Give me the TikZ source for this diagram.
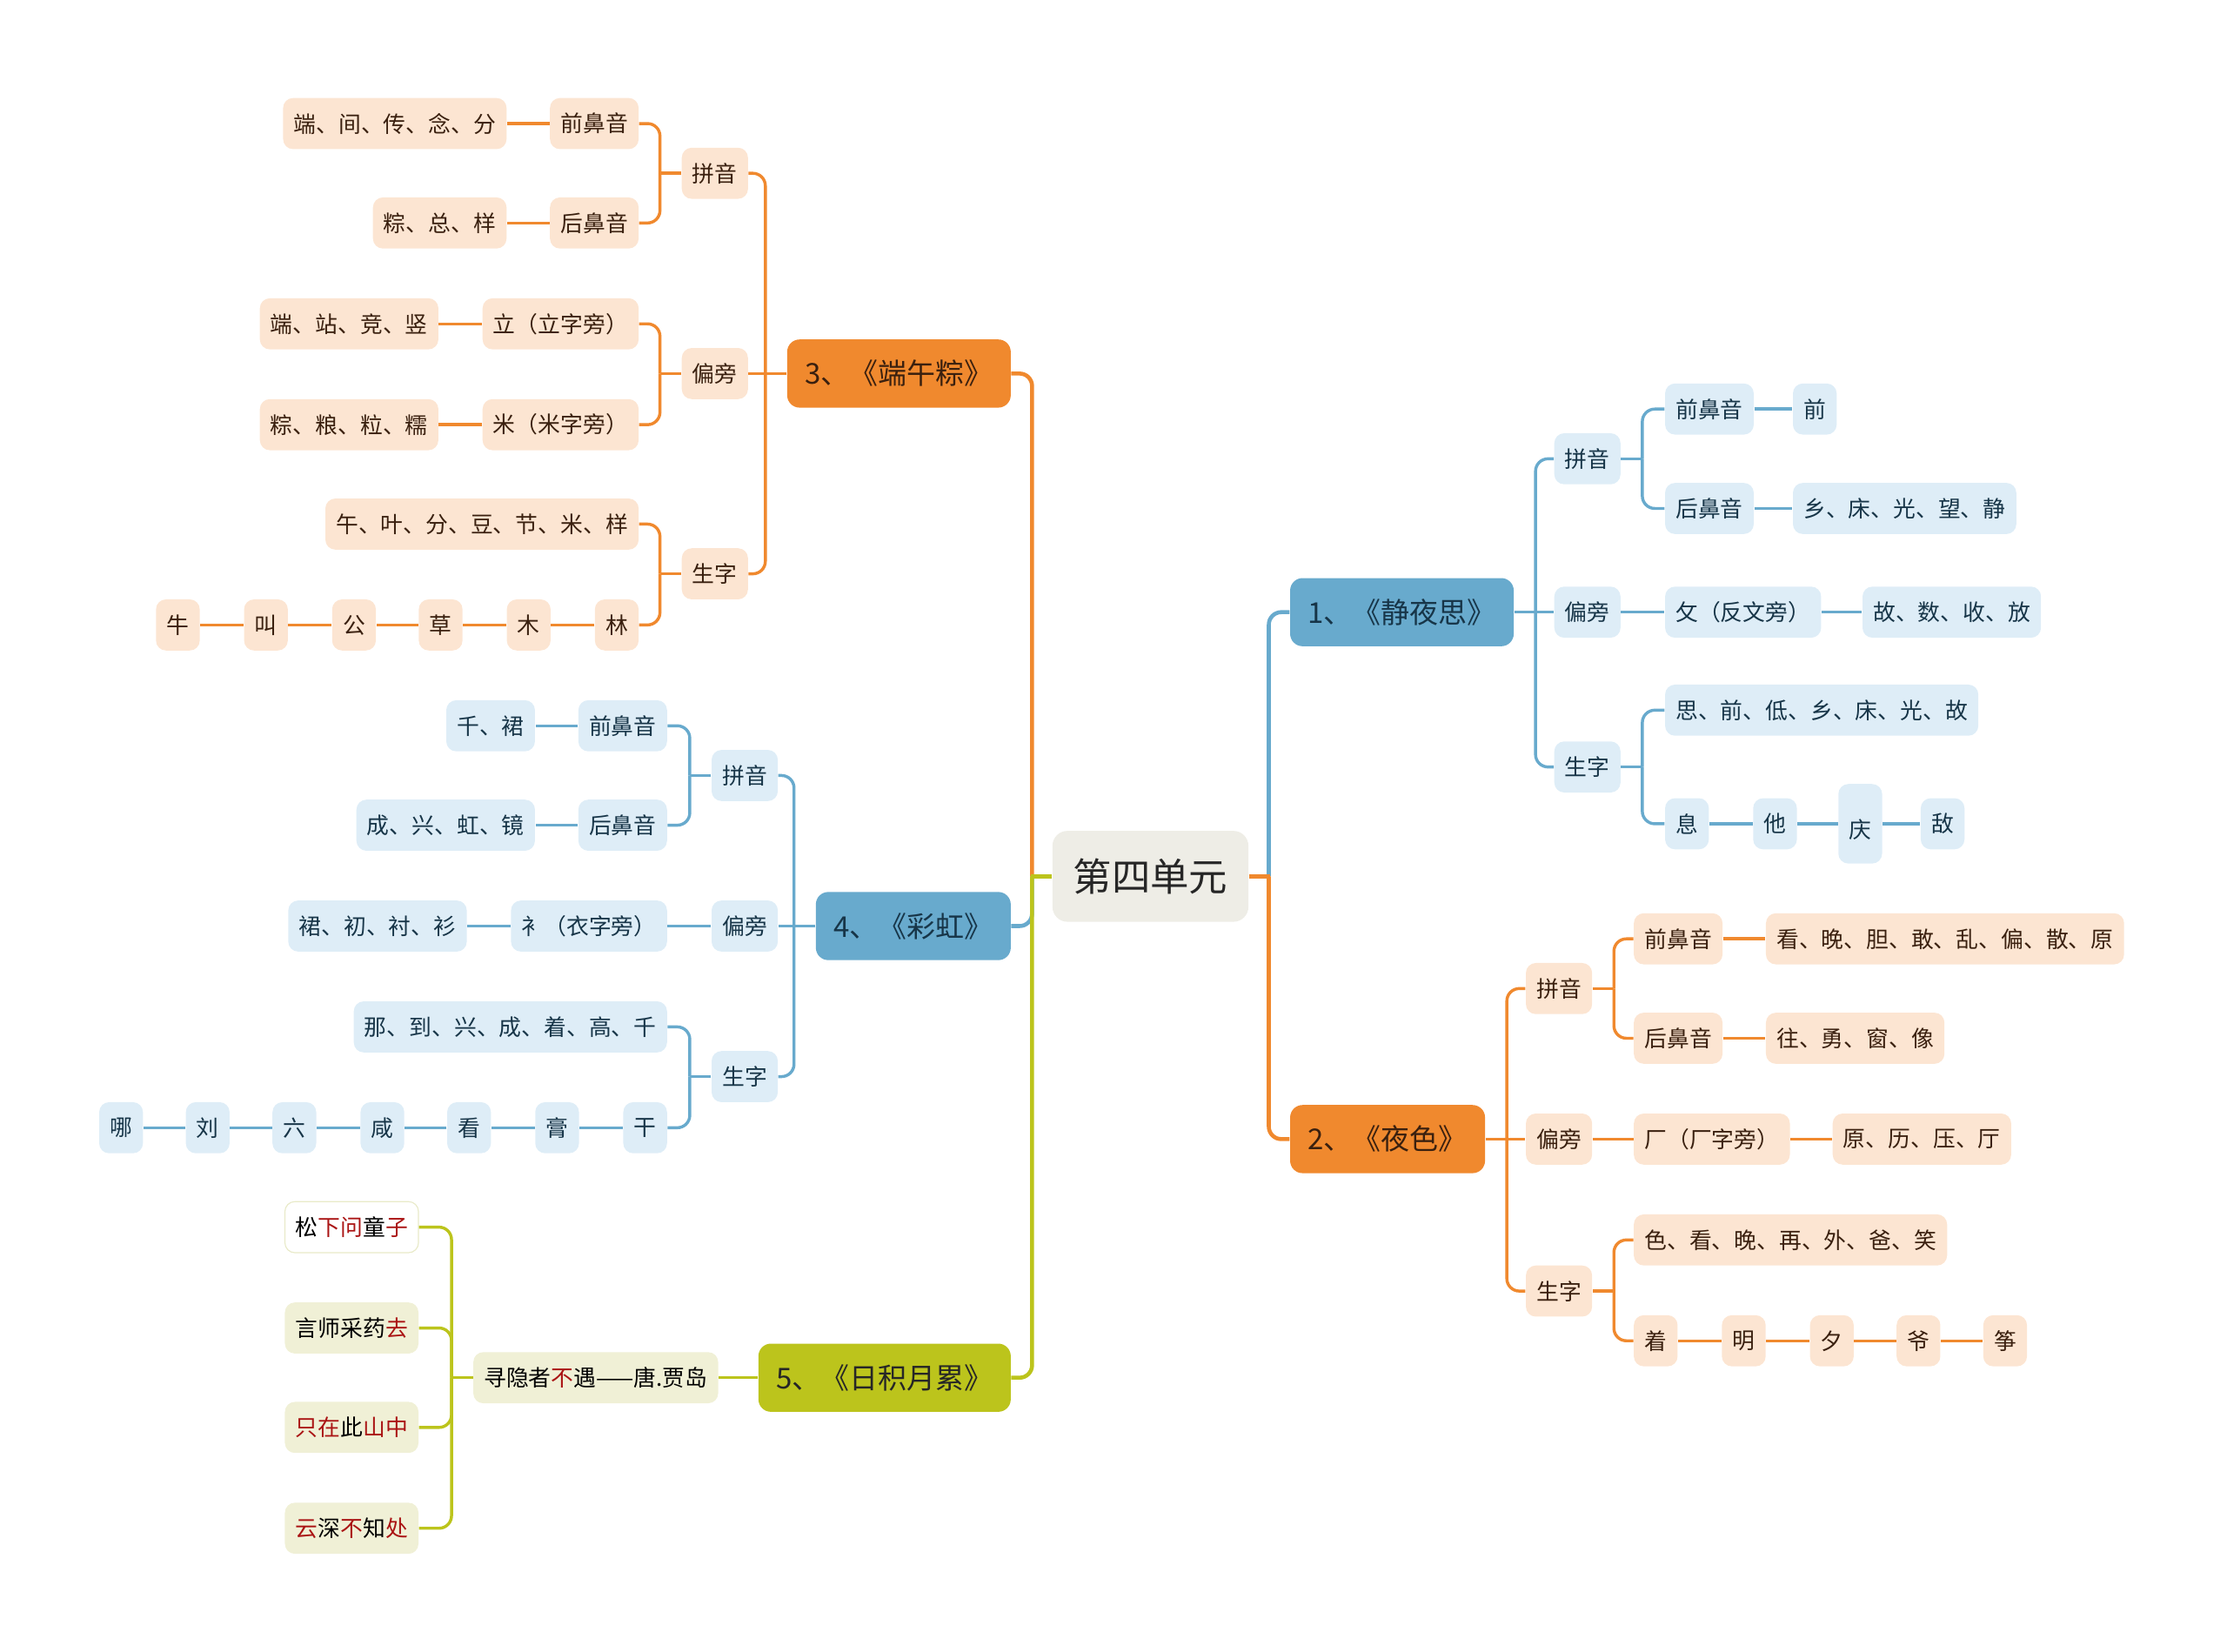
\documentclass[tikz,border=0pt]{standalone}
\usepackage{fontspec}
\setmainfont{Noto Sans CJK SC}
\usepackage{xcolor}
\definecolor{omain}{RGB}{240,137,46}
\definecolor{olight}{RGB}{252,229,210}
\definecolor{otext}{RGB}{58,32,15}
\definecolor{bmain}{RGB}{104,170,205}
\definecolor{blight}{RGB}{222,237,247}
\definecolor{btext}{RGB}{23,53,72}
\definecolor{gmain}{RGB}{188,196,28}
\definecolor{glight}{RGB}{240,240,214}
\definecolor{gedge}{RGB}{232,234,200}
\definecolor{rootfill}{RGB}{238,237,230}
\definecolor{poemred}{RGB}{170,20,20}
\newcommand\hl[1]{\textcolor{poemred}{#1}}

\tikzset{
  kid/.style={rounded corners=4pt,inner xsep=0.15cm,inner ysep=0pt,minimum height=0.72cm,
    font=\fontsize{9}{12}\selectfont},
  onode/.style={kid,fill=olight,text=otext},
  bnode/.style={kid,fill=blight,text=btext},
  gnode/.style={kid,fill=glight,text=black},
  topic/.style={rounded corners=5pt,inner xsep=0.25cm,inner ysep=0pt,minimum height=0.96cm,
    font=\fontsize{11.5}{14}\selectfont},
  lnk/.style={line width=1.2pt,rounded corners=5pt},
  trunk/.style={line width=1.6pt},
  oline/.style={lnk,draw=omain},
  bline/.style={lnk,draw=bmain},
  gline/.style={lnk,draw=gmain}
}

\begin{document}
\begin{tikzpicture}[x=0.02cm,y=-0.02cm]
  \useasboundingbox (0,0) rectangle (1568,1163);

  % centre
  \node[rounded corners=6pt,fill=rootfill,text=black!85,minimum width=2.76cm,minimum height=1.28cm,
    font=\fontsize{15.5}{18}\selectfont] (root) at (810,617) {第四单元};

  % 1 静夜思
  \node[topic,fill=bmain,text=btext,anchor=west] (jys) at (908,431) {1、《静夜思》};
  \node[bnode,anchor=west] (jpy) at (1094,323) {拼音};
  \node[bnode,anchor=west] (jq) at (1172,288) {前鼻音};
  \node[bnode,anchor=west] (jq2) at (1262,288) {前};
  \node[bnode,anchor=west] (jh) at (1172,358) {后鼻音};
  \node[bnode,anchor=west] (jh2) at (1262,358) {乡、床、光、望、静};
  \node[bnode,anchor=west] (jpp) at (1094,431) {偏旁};
  \node[bnode,anchor=west] (jpa) at (1172,431) {攵（反文旁）};
  \node[bnode,anchor=west] (jpb) at (1311,431) {故、数、收、放};
  \node[bnode,anchor=west] (jsz) at (1094,540) {生字};
  \node[bnode,anchor=west] (jsa) at (1172,500) {思、前、低、乡、床、光、故};
  \node[bnode,anchor=west] (jx1) at (1172,580) {息};
  \node[bnode,anchor=west] (jx2) at (1234,580) {他};
  \node[bnode,anchor=west,align=center,minimum height=1.12cm] (jx3) at (1294,580) {\mbox{}\\庆};
  \node[bnode,anchor=west] (jx4) at (1352,580) {敌};

  % 2 夜色
  \node[topic,fill=omain,text=otext,anchor=west] (ys) at (908,802) {2、《夜色》};
  \node[onode,anchor=west] (ypy) at (1074,696) {拼音};
  \node[onode,anchor=west] (yq) at (1150,661) {前鼻音};
  \node[onode,anchor=west] (yq2) at (1243,661) {看、晚、胆、敢、乱、偏、散、原};
  \node[onode,anchor=west] (yh) at (1150,731) {后鼻音};
  \node[onode,anchor=west] (yh2) at (1243,731) {往、勇、窗、像};
  \node[onode,anchor=west] (ypp) at (1074,802) {偏旁};
  \node[onode,anchor=west] (ypa) at (1150,802) {厂（厂字旁）};
  \node[onode,anchor=west] (ypb) at (1290,802) {原、历、压、厅};
  \node[onode,anchor=west] (ysz) at (1074,909) {生字};
  \node[onode,anchor=west] (ysa) at (1150,873) {色、看、晚、再、外、爸、笑};
  \foreach \t/\x [count=\i] in {着/1150,明/1212,夕/1274,爷/1335,筝/1396}
    \node[onode,anchor=west] (yx\i) at (\x,944) {\t};

  % 3 端午粽
  \node[topic,fill=omain,text=otext,anchor=east] (dw) at (712,263) {3、《端午粽》};
  \node[onode,anchor=east] (dpy) at (527,122) {拼音};
  \node[onode,anchor=east] (dq) at (450,87) {前鼻音};
  \node[onode,anchor=east] (dq2) at (357,87) {端、间、传、念、分};
  \node[onode,anchor=east] (dh) at (450,157) {后鼻音};
  \node[onode,anchor=east] (dh2) at (357,157) {粽、总、样};
  \node[onode,anchor=east] (dpp) at (527,263) {偏旁};
  \node[onode,anchor=east] (dpa) at (450,228) {立（立字旁）};
  \node[onode,anchor=east] (dpa2) at (309,228) {端、站、竞、竖};
  \node[onode,anchor=east] (dpb) at (450,299) {米（米字旁）};
  \node[onode,anchor=east] (dpb2) at (309,299) {粽、粮、粒、糯};
  \node[onode,anchor=east] (dsz) at (527,404) {生字};
  \node[onode,anchor=east] (dsa) at (450,369) {午、叶、分、豆、节、米、样};
  \foreach \t/\x [count=\i] in {林/450,木/388,草/326,公/265,叫/203,牛/141}
    \node[onode,anchor=east] (dx\i) at (\x,440) {\t};

  % 4 彩虹
  \node[topic,fill=bmain,text=btext,anchor=east] (ch) at (712,652) {4、《彩虹》};
  \node[bnode,anchor=east] (cpy) at (548,546) {拼音};
  \node[bnode,anchor=east] (cq) at (470,511) {前鼻音};
  \node[bnode,anchor=east] (cq2) at (377,511) {千、裙};
  \node[bnode,anchor=east] (chb) at (470,581) {后鼻音};
  \node[bnode,anchor=east] (chb2) at (377,581) {成、兴、虹、镜};
  \node[bnode,anchor=east] (cpp) at (548,652) {偏旁};
  \node[bnode,anchor=east] (cpa) at (470,652) {衤（衣字旁）};
  \node[bnode,anchor=east] (cpb) at (329,652) {裙、初、衬、衫};
  \node[bnode,anchor=east] (csz) at (548,758) {生字};
  \node[bnode,anchor=east] (csa) at (470,723) {那、到、兴、成、着、高、千};
  \foreach \t/\x [count=\i] in {干/470,膏/408,看/346,咸/285,六/223,刘/162,哪/101}
    \node[bnode,anchor=east] (cx\i) at (\x,794) {\t};

  % 5 日积月累
  \node[topic,fill=gmain,text=black!85,anchor=east] (rj) at (712,970) {5、《日积月累》};
  \node[gnode,anchor=east] (rp) at (506,970) {寻隐者\hl{不}遇——唐.贾岛};
  \node[kid,fill=white,draw=gedge,text=black,anchor=east] (r1) at (295,864) {松\hl{下问}童\hl{子}};
  \node[gnode,anchor=east] (r2) at (295,935) {言师采药\hl{去}};
  \node[gnode,anchor=east] (r3) at (295,1005) {\hl{只在}此\hl{山中}};
  \node[gnode,anchor=east] (r4) at (295,1076) {\hl{云}深\hl{不}知\hl{处}};

  % main branches
  \draw[oline,trunk] (root.west) ++(-14,0) |- (dw.east);
  \draw[bline,trunk] (root.west) ++(-14,0) |- (ch.east);
  \draw[gline,trunk] (root.west) ++(-14,0) |- (rj.east);
  \draw[gline,trunk] (root.west) -- ++(-15,0);
  \draw[bline,trunk] (root.east) ++(14,0) |- (jys.west);
  \draw[oline,trunk] (root.east) ++(14,0) |- (ys.west);
  \draw[oline,trunk] (root.east) -- ++(15,0);

  % 静夜思
  \draw[bline] (jpy.east) -- ++(15,0) (jsz.east) -- ++(15,0);
  \draw[bline] (jys.east) -- (jpp.west);
  \foreach \n in {jpy,jsz} \draw[bline] (jys.east) ++(15,0) |- (\n.west);
  \foreach \n in {jq,jh} \draw[bline] (jpy.east) ++(15,0) |- (\n.west);
  \foreach \n in {jsa,jx1} \draw[bline] (jsz.east) ++(15,0) |- (\n.west);
  \draw[bline] (jq.east) -- (jq2.west);
  \draw[bline] (jh.east) -- (jh2.west);
  \draw[bline] (jpp.east) -- (jpa.west);
  \draw[bline] (jpa.east) -- (jpb.west);
  \foreach \a/\b in {1/2,2/3,3/4} \draw[bline] (jx\a.east) -- (jx\b.west);

  % 夜色
  \draw[oline] (ypy.east) -- ++(15,0) (ysz.east) -- ++(15,0);
  \draw[oline] (ys.east) -- (ypp.west);
  \foreach \n in {ypy,ysz} \draw[oline] (ys.east) ++(15,0) |- (\n.west);
  \foreach \n in {yq,yh} \draw[oline] (ypy.east) ++(15,0) |- (\n.west);
  \foreach \n in {ysa,yx1} \draw[oline] (ysz.east) ++(15,0) |- (\n.west);
  \draw[oline] (yq.east) -- (yq2.west);
  \draw[oline] (yh.east) -- (yh2.west);
  \draw[oline] (ypp.east) -- (ypa.west);
  \draw[oline] (ypa.east) -- (ypb.west);
  \foreach \a/\b in {1/2,2/3,3/4,4/5} \draw[oline] (yx\a.east) -- (yx\b.west);

  % 端午粽
  \draw[oline] (dpy.west) -- ++(-15,0) (dpp.west) -- ++(-15,0) (dsz.west) -- ++(-15,0);
  \draw[oline] (dw.west) -- (dpp.east);
  \foreach \n in {dpy,dsz} \draw[oline] (dw.west) ++(-15,0) |- (\n.east);
  \foreach \n in {dq,dh} \draw[oline] (dpy.west) ++(-15,0) |- (\n.east);
  \foreach \n in {dpa,dpb} \draw[oline] (dpp.west) ++(-15,0) |- (\n.east);
  \foreach \n in {dsa,dx1} \draw[oline] (dsz.west) ++(-15,0) |- (\n.east);
  \draw[oline] (dq.west) -- (dq2.east);
  \draw[oline] (dh.west) -- (dh2.east);
  \draw[oline] (dpa.west) -- (dpa2.east);
  \draw[oline] (dpb.west) -- (dpb2.east);
  \foreach \a/\b in {1/2,2/3,3/4,4/5,5/6} \draw[oline] (dx\a.west) -- (dx\b.east);

  % 彩虹
  \draw[bline] (cpy.west) -- ++(-15,0) (csz.west) -- ++(-15,0);
  \draw[bline] (ch.west) -- (cpp.east);
  \foreach \n in {cpy,csz} \draw[bline] (ch.west) ++(-15,0) |- (\n.east);
  \foreach \n in {cq,chb} \draw[bline] (cpy.west) ++(-15,0) |- (\n.east);
  \foreach \n in {csa,cx1} \draw[bline] (csz.west) ++(-15,0) |- (\n.east);
  \draw[bline] (cq.west) -- (cq2.east);
  \draw[bline] (chb.west) -- (chb2.east);
  \draw[bline] (cpp.west) -- (cpa.east);
  \draw[bline] (cpa.west) -- (cpb.east);
  \foreach \a/\b in {1/2,2/3,3/4,4/5,5/6,6/7} \draw[bline] (cx\a.west) -- (cx\b.east);

  % 日积月累
  \draw[gline] (rj.west) -- (rp.east);
  \draw[gline] (rp.west) -- ++(-15,0);
  \foreach \n in {r1,r2,r3,r4} \draw[gline] (rp.west) ++(-15,0) |- (\n.east);
\end{tikzpicture}
\end{document}
